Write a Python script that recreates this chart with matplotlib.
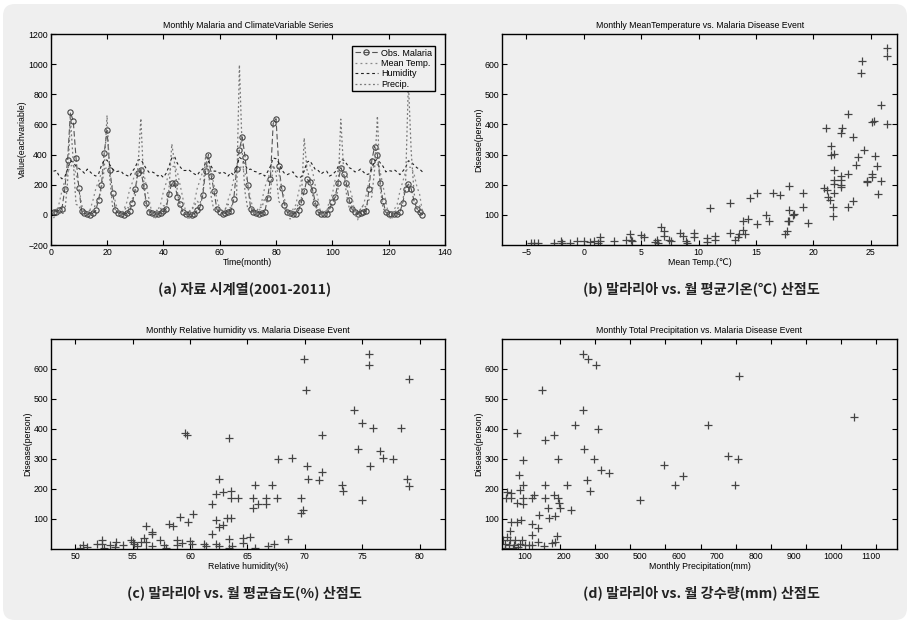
import numpy as np
import matplotlib
matplotlib.use("Agg")
import matplotlib.pyplot as plt
from matplotlib.patches import FancyBboxPatch

plt.rcParams['font.family'] = ['Liberation Sans', 'DejaVu Sans', 'Noto Sans CJK KR']

# ---- (a) monthly series 2001-2011 ----
months = np.arange(1, 133)
malaria = [18, 22, 33, 42, 171, 362, 680, 624, 376, 178, 24, 13,
           7, 2, 13, 29, 100, 196, 411, 560, 300, 147, 33, 13,
           7, 2, 13, 24, 78, 171, 278, 300, 191, 78, 20, 13,
           7, 4, 13, 24, 42, 140, 211, 211, 118, 69, 16, 7,
           4, 2, 7, 29, 51, 131, 293, 400, 260, 156, 36, 16,
           7, 11, 22, 24, 104, 302, 433, 516, 387, 196, 40, 22,
           13, 7, 13, 18, 111, 240, 607, 638, 322, 178, 64, 16,
           13, 7, 7, 29, 82, 156, 236, 220, 164, 80, 16, 7,
           7, 7, 40, 82, 118, 211, 313, 269, 209, 98, 36, 18,
           7, 13, 18, 24, 169, 360, 453, 400, 211, 89, 16, 7,
           7, 7, 7, 20, 80, 173, 204, 173, 93, 42, 16, 2]
temp = [-3.5, -1.0, 4.8, 11.6, 17.2, 21.8, 25.1, 26.3, 20.9, 13.4, 4.1, -2.6,
        -0.6, 1.2, 6.4, 12.7, 17.0, 21.5, 23.9, 24.3, 20.3, 13.1, 5.0, 0.1,
        -1.9, 1.4, 5.2, 12.2, 16.2, 21.5, 23.0, 24.4, 21.6, 13.9, 6.3, -1.2,
        -4.3, 0.9, 4.1, 11.0, 16.0, 21.7, 24.9, 25.3, 21.9, 14.3, 7.0, -0.5,
        -4.6, -1.0, 5.2, 12.8, 17.5, 22.4, 24.6, 26.4, 22.2, 14.9, 7.4, 1.5,
        -2.6, 1.5, 6.7, 11.2, 18.1, 21.3, 24.3, 25.1, 21.2, 15.8, 6.9, 0.8,
        -2.0, -0.2, 6.2, 13.5, 17.8, 22.5, 24.1, 24.2, 21.0, 13.6, 7.2, 0.5,
        -4.0, 1.4, 3.8, 10.8, 17.5, 22.4, 25.6, 25.9, 22.3, 14.0, 6.3, -2.0,
        -1.3, 0.3, 6.4, 9.7, 17.8, 22.8, 24.8, 25.4, 21.7, 13.8, 8.4, -1.2,
        -4.4, 1.5, 3.7, 9.2, 16.8, 23.1, 25.8, 26.2, 22.0, 14.5, 5.9, -2.2,
        -4.5, 1.4, 4.1, 11.4, 16.7, 22.0, 24.7, 24.6, 21.0, 14.1, 9.6, -0.1]
humid = [63, 64, 56, 52, 55, 66, 78, 76, 70, 67, 64, 60,
         66, 62, 58, 56, 59, 71, 79, 79, 72, 66, 62, 63,
         63, 58, 57, 55, 63, 68, 79, 80, 73, 66, 61, 62,
         60, 56, 58, 54, 60, 70, 82, 84, 74, 69, 64, 64,
         65, 62, 59, 57, 63, 66, 75, 77, 70, 63, 63, 60,
         62, 60, 56, 61, 57, 68, 83, 80, 72, 65, 66, 63,
         62, 59, 60, 56, 62, 70, 82, 81, 75, 65, 60, 58,
         60, 62, 56, 53, 55, 64, 76, 78, 72, 65, 64, 59,
         62, 63, 56, 58, 62, 69, 80, 79, 74, 68, 66, 62,
         63, 66, 62, 58, 59, 66, 78, 80, 75, 70, 62, 64,
         63, 65, 62, 58, 63, 68, 78, 76, 72, 68, 66, 62]
precip = [10, 38, 8, 10, 12, 220, 640, 350, 70, 60, 20, 15,
          18, 30, 25, 75, 90, 180, 300, 660, 240, 50, 35, 20,
          15, 25, 55, 40, 110, 120, 320, 640, 230, 40, 30, 18,
          30, 30, 40, 60, 60, 170, 470, 340, 150, 45, 35, 20,
          20, 40, 60, 90, 75, 140, 390, 280, 120, 25, 50, 30,
          25, 40, 70, 40, 120, 130, 995, 420, 150, 35, 50, 20,
          22, 50, 50, 110, 80, 150, 330, 280, 90, 60, 40, 25,
          15, 20, 45, 70, 100, 510, 300, 240, 130, 50, 40, 15,
          30, 25, 40, 60, 110, 160, 635, 300, 140, 45, 60, 20,
          20, 35, 65, 50, 100, 120, 300, 655, 180, 40, 25, 30,
          15, 20, 30, 80, 90, 210, 880, 420, 150, 30, 60, 20]
temp_scale, temp_shift = 12, 20
humid_scale = 4.6

# ---- (b) temperature vs disease ----
b_temp = [26.4, 26.4, 24.2, 24.1, 25.9, 23.0, 21.1, 22.5, 22.4, 25.3, 25.1, 26.4, 23.4, 21.5,
          21.8, 21.5, 24.4, 23.9, 25.4, 23.7, 25.5, 21.8, 23.0, 25.1, 25.1, 22.4, 22.4, 21.8,
          21.8, 24.7, 24.7, 25.9, 22.4, 20.9, 21.2, 21.8, 22.4, 21.3, 21.4, 21.7, 21.7, 23.0,
          23.4, 25.6, 17.9, 19.1, 19.1, 19.5, 17.9, 17.9, 18.3, 18.2, 17.8, 17.7, 17.5, 16.5,
          17.1, 15.9, 16.1, 15.1, 14.5, 15.1, 14.3, 13.9, 13.9, 14.0, 13.5, 13.4, 13.2, 12.7,
          12.7, 11.0, 11.4, 11.4, 10.7, 10.7, 9.6, 9.6, 8.9, 8.6, 8.4, 7.4, 7.0, 7.0, 6.7,
          6.4, 6.2, 5.2, 5.0, 4.0, 4.1, 3.7, 1.4, 1.4, 1.2, 0.9, 0.5, 0.0, -0.6, -1.2, -2.0,
          -1.9, -2.6, -4.0, -4.3, -4.6, 2.6, 4.2, 6.5, 7.6, 9.0]
b_dis = [653, 626, 612, 570, 463, 433, 387, 387, 370, 411, 408, 403, 357, 328,
         303, 297, 314, 292, 294, 267, 261, 248, 237, 237, 226, 228, 217, 214,
         203, 212, 208, 212, 198, 190, 181, 172, 192, 159, 148, 126, 97, 126,
         146, 168, 197, 172, 126, 73, 117, 81, 103, 100, 81, 48, 37, 172,
         167, 98, 81, 172, 157, 70, 87, 81, 50, 37, 37, 26, 17, 140,
         40, 123, 29, 17, 23, 9, 39, 26, 14, 30, 39, 17, 48, 30, 59,
         17, 10, 26, 32, 37, 17, 17, 26, 12, 8, 14, 10, 12, 14, 8, 14,
         8, 8, 8, 8, 8, 12, 12, 8, 14, 8]

# ---- (c) humidity vs disease ----
c_hum = [75.6, 75.6, 69.9, 70.1, 79.1, 74.3, 75.0, 75.9, 78.4, 71.5, 59.6, 59.7, 63.4, 74.6,
         76.5, 76.8, 77.7, 67.7, 68.9, 75.7, 70.2, 70.3, 71.5, 71.2, 73.2, 73.3, 78.9, 79.1,
         62.5, 65.7, 67.1, 62.3, 62.9, 63.6, 63.6, 64.2, 61.9, 65.5, 66.6, 67.6, 65.9, 65.5,
         66.6, 69.7, 69.8, 69.7, 75.0, 60.3, 59.1, 58.2, 58.5, 59.8, 62.3, 63.2, 63.6, 62.5,
         62.9, 61.9, 56.2, 56.7, 56.7, 56.0, 56.2, 56.2, 55.7, 54.9, 55.1, 53.6, 52.3, 52.3,
         51.9, 53.0, 50.7, 51.0, 50.4, 57.4, 57.7, 57.9, 58.9, 58.9, 59.3, 60.0, 60.2, 61.2,
         61.4, 62.3, 62.5, 63.4, 63.4, 63.7, 64.6, 64.6, 65.2, 65.7, 66.8, 67.3, 68.5, 54.2,
         55.4, 56.7, 52.5, 53.5, 55.0]
c_dis = [651, 614, 634, 531, 568, 464, 420, 404, 404, 381, 388, 381, 371, 334,
         327, 304, 299, 301, 304, 276, 276, 234, 258, 229, 214, 194, 234, 211,
         234, 212, 214, 182, 189, 193, 171, 171, 149, 171, 171, 171, 151, 138,
         151, 171, 131, 121, 164, 116, 107, 84, 76, 89, 98, 104, 104, 73,
         81, 49, 76, 58, 49, 36, 24, 0, 24, 29, 18, 23, 31, 16,
         16, 14, 13, 7, 4, 29, 12, 4, 12, 31, 20, 27, 18, 18,
         9, 18, 9, 33, 4, 11, 36, 20, 40, 4, 11, 18, 33, 12,
         9, 9, 5, 6, 22]

# ---- (d) precipitation vs disease ----
d_pre = [264, 280, 301, 149, 710, 1037, 264, 242, 309, 622, 76, 157, 181, 269, 93, 195, 297,
         679, 707, 496, 315, 339, 551, 83, 95, 157, 219, 527, 698, 276, 286, 428, 48, 60, 86,
         45, 60, 95, 121, 126, 157, 181, 195, 76, 95, 196, 166, 199, 230, 139, 168, 185, 138,
         60, 76, 87, 121, 57, 119, 190, 43, 57, 72, 91, 53, 67, 86, 100, 119, 138, 155, 176,
         185, 43, 38, 48, 65, 80, 110]
d_dis = [651, 633, 614, 531, 578, 440, 464, 414, 401, 414, 388, 364, 381, 334, 298, 301, 301,
         310, 301, 281, 264, 254, 242, 246, 214, 214, 214, 214, 212, 229, 194, 164, 190, 187, 196,
         171, 171, 171, 171, 179, 171, 179, 171, 154, 151, 153, 138, 138, 131, 114, 103, 109, 71,
         89, 89, 98, 83, 60, 48, 42, 18, 29, 31, 31, 12, 12, 18, 12, 12, 22, 9, 20,
         22, 4, 29, 40, 5, 8, 15]
d_label_text = ['100', '200', '300', '500', '600', '700', '800', '900', '1000', '1100']

W, H = 911, 623
fig = plt.figure(figsize=(W / 100, H / 100), dpi=100, facecolor='white')
bg = FancyBboxPatch((0.03, 0.03), 9.04, 6.16, boxstyle='round,pad=0,rounding_size=0.12',
                    transform=fig.dpi_scale_trans, facecolor='#efefef', edgecolor='none', zorder=-10)
fig.patches.append(bg)


def add_ax(l, t, r, b):
    ax = fig.add_axes([l / W, 1 - b / H, (r - l) / W, (b - t) / H])
    ax.set_facecolor('none')
    for s in ax.spines.values():
        s.set_linewidth(1.0)
    ax.tick_params(which='both', direction='in', top=True, right=True, length=3.5,
                   width=0.8, labelsize=6.3, pad=2)
    return ax


axa = add_ax(50.7, 34, 445, 245)
axb = add_ax(502.3, 34, 897.3, 245)
axc = add_ax(51, 339, 445, 549)
axd = add_ax(502.3, 339, 896.7, 549)

# (a)
axa.plot(months, malaria, linestyle=(0, (5, 2.5)), color='#555555', lw=0.8, marker='o',
         ms=3.8, mfc='none', mec='#444444', mew=0.8, label='Obs. Malaria')
axa.plot(months, np.array(temp) * temp_scale + temp_shift, linestyle=(0, (1.5, 2.5)),
         color='#888888', lw=0.9, label='Mean Temp.')
axa.plot(months, np.array(humid) * humid_scale, linestyle=(0, (2.5, 2.5)), color='#222222',
         lw=0.8, label='Humidity')
axa.plot(months, precip, linestyle=(0, (1.5, 2)), color='#777777', lw=0.9, label='Precip.')
axa.set_xlim(0, 140)
axa.set_ylim(-200, 1200)
axa.set_xticks(range(0, 141, 20))
axa.set_yticks(range(-200, 1201, 200))
axa.set_title('Monthly Malaria and ClimateVariable Series', fontsize=6.3, pad=4)
axa.set_xlabel('Time(month)', fontsize=6.3, labelpad=1)
axa.set_ylabel('Value(eachvariable)', fontsize=6.3, labelpad=1)
leg = axa.legend(loc='upper right', fontsize=6.5, fancybox=False, framealpha=1,
                 facecolor='#efefef', edgecolor='black', handlelength=2.6,
                 borderpad=0.3, labelspacing=0.15, handletextpad=0.3,
                 bbox_to_anchor=(0.985, 0.965))
leg.get_frame().set_linewidth(1.0)

pk = dict(linestyle='none', marker='+', ms=6, mew=0.9, color='#444444')

# (b)
axb.plot(b_temp, b_dis, **pk)
axb.set_xlim(-7.1, 27.3)
axb.set_ylim(0, 700)
axb.set_xticks(range(-5, 26, 5))
axb.set_yticks(range(100, 601, 100))
axb.set_title('Monthly MeanTemperature vs. Malaria Disease Event', fontsize=6.3, pad=4)
axb.set_xlabel('Mean Temp.(\u2103)', fontsize=6.3, labelpad=1)
axb.set_ylabel('Disease(person)', fontsize=6.3, labelpad=1)

# (c)
axc.plot(c_hum, c_dis, **pk)
axc.set_xlim(47.9, 82.2)
axc.set_ylim(0, 700)
axc.set_xticks(range(50, 81, 5))
axc.set_yticks(range(100, 601, 100))
axc.set_title('Monthly Relative humidity vs. Malaria Disease Event', fontsize=6.3, pad=4)
axc.set_xlabel('Relative humidity(%)', fontsize=6.3, labelpad=1)
axc.set_ylabel('Disease(person)', fontsize=6.3, labelpad=1)

# (d)
axd.plot(d_pre, d_dis, **pk)
axd.set_xlim(35, 1159)
axd.set_ylim(0, 700)
axd.set_xticks(np.linspace(100, 1086, len(d_label_text)))
axd.set_xticklabels(d_label_text)
axd.set_xticks(range(100, 1101, 100), minor=True)
axd.tick_params(axis='x', which='major', length=0)
axd.set_yticks(range(100, 601, 100))
axd.set_title('Monthly Total Precipitation vs. Malaria Disease Event', fontsize=6.3, pad=4)
axd.set_xlabel('Monthly Precipitation(mm)', fontsize=6.3, labelpad=1)
axd.set_ylabel('Disease(person)', fontsize=6.3, labelpad=1)

cap = dict(ha='center', va='center', fontsize=10.2, fontweight='bold', color='#222222',
           family=['Noto Sans CJK KR', 'DejaVu Sans'])
fig.text(245 / W, 1 - 289 / H, '(a) 자료 시계열(2001-2011)', **cap)
fig.text(701 / W, 1 - 289 / H, '(b) 말라리아 vs. 월 평균기온(\u2103) 산점도', **cap)
fig.text(244 / W, 1 - 593 / H, '(c) 말라리아 vs. 월 평균습도(%) 산점도', **cap)
fig.text(701 / W, 1 - 593 / H, '(d) 말라리아 vs. 월 강수량(mm) 산점도', **cap)

fig.savefig('out.png', dpi=100, facecolor='white')
